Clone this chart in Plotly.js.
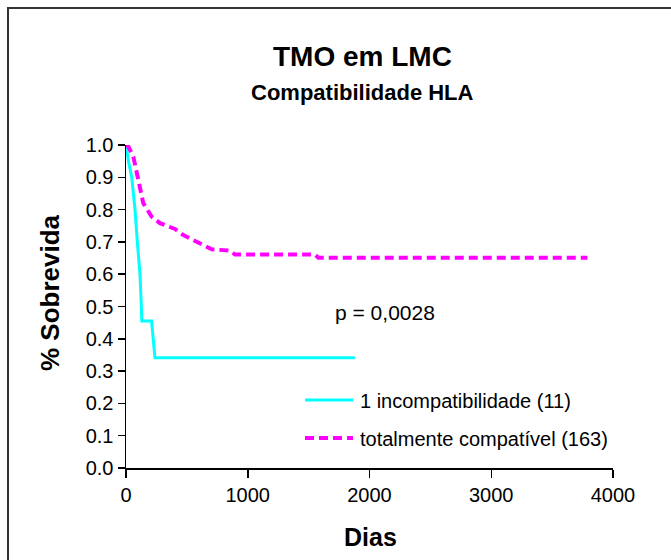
<!DOCTYPE html>
<html>
<head>
<meta charset="utf-8">
<script src="https://cdn.plot.ly/plotly-3.0.1.min.js"></script>
<style>
  html, body { margin: 0; padding: 0; background: #fff; }
  #wrap { position: relative; width: 671px; height: 560px; overflow: hidden; }
  #chart { position: absolute; left: 0; top: 0; width: 671px; height: 560px; }
  #frame { position: absolute; left: 7px; top: 7px; width: 700px; height: 600px;
           border-left: 2px solid #333; border-top: 2px solid #333; pointer-events: none; }
</style>
</head>
<body>
<div id="wrap"><div id="chart"></div><div id="frame"></div></div>
<script>
// Data
const seriesNames = ["1 incompatibilidade (11)", "totalmente compatível (163)"];

const incompDays = [0, 20, 47, 74, 93, 115, 126, 130, 210, 238, 1880];
const incompSurv = [1.0, 0.95, 0.90, 0.80, 0.70, 0.60, 0.50, 0.455, 0.455, 0.341, 0.341];

const compatDays = [0, 20, 60, 88, 101, 142, 211, 279, 402, 471, 540, 608, 704, 854, 895, 1552, 1580, 3790];
const compatSurv = [1.0, 0.995, 0.964, 0.915, 0.88, 0.82, 0.778, 0.758, 0.74, 0.721, 0.708, 0.696, 0.677, 0.673, 0.661, 0.661, 0.651, 0.651];

const xTicks = [0, 1000, 2000, 3000, 4000];
const yTicks = [0, 0.1, 0.2, 0.3, 0.4, 0.5, 0.6, 0.7, 0.8, 0.9, 1.0];

const titleText = "TMO em LMC";
const subtitleText = "Compatibilidade HLA";
const pText = "p = 0,0028";
const xTitle = "Dias";
const yTitle = "% Sobrevida";

const FONT = "Liberation Sans, Arial, Helvetica, sans-serif";
const CYAN = "#00FFFF";
const MAGENTA = "#FF00FF";

const traces = [
  { x: incompDays, y: incompSurv, mode: "lines", name: seriesNames[0],
    line: { color: CYAN, width: 3 }, showlegend: false, hoverinfo: "x+y" },
  { x: compatDays, y: compatSurv, mode: "lines", name: seriesNames[1],
    line: { color: MAGENTA, width: 4, dash: "9px,5px" }, showlegend: false, hoverinfo: "x+y" }
];

// plot area in pixels: x 126..613, y 145..468
const L = 126, R = 613, T = 145, B = 468, W = 671, H = 560;
const px = v => (v - L) / (R - L);      // pixel x -> paper x
const py = v => (B - v) / (B - T);      // pixel y -> paper y

const layout = {
  width: W, height: H,
  margin: { l: L, r: W - R, t: T, b: H - B, pad: 0 },
  paper_bgcolor: "#fff", plot_bgcolor: "#fff",
  font: { family: FONT, color: "#000", size: 20 },
  showlegend: false,
  xaxis: {
    range: [0, 4000], tickvals: xTicks, ticktext: xTicks.map(String),
    showline: true, linecolor: "#000", linewidth: 1.5,
    ticks: "outside", ticklen: 8, tickwidth: 1.5, tickcolor: "#000",
    showgrid: false, zeroline: false, tickfont: { size: 20 }
  },
  yaxis: {
    range: [0, 1], tickvals: yTicks, ticktext: yTicks.map(v => v.toFixed(1)),
    showline: true, linecolor: "#000", linewidth: 1.5,
    ticks: "outside", ticklen: 7, tickwidth: 1.5, tickcolor: "#000",
    showgrid: false, zeroline: false, tickfont: { size: 20 }
  },
  annotations: [
    { text: "<b>" + titleText + "</b>", xref: "paper", yref: "paper", x: px(362), y: py(57),
      xanchor: "center", yanchor: "middle", showarrow: false, font: { size: 28 } },
    { text: "<b>" + subtitleText + "</b>", xref: "paper", yref: "paper", x: px(362), y: py(92),
      xanchor: "center", yanchor: "middle", showarrow: false, font: { size: 22 } },
    { text: "<b>" + xTitle + "</b>", xref: "paper", yref: "paper", x: px(370), y: py(537),
      xanchor: "center", yanchor: "middle", showarrow: false, font: { size: 25 } },
    { text: "<b>" + yTitle + "</b>", xref: "paper", yref: "paper", x: px(50), y: py(293),
      xanchor: "center", yanchor: "middle", showarrow: false, textangle: -90, font: { size: 26 } },
    { text: pText, xref: "paper", yref: "paper", x: px(333), y: py(312),
      xanchor: "left", yanchor: "middle", showarrow: false, font: { size: 21 } },
    { text: seriesNames[0], xref: "paper", yref: "paper", x: px(358), y: py(401),
      xanchor: "left", yanchor: "middle", showarrow: false, font: { size: 20 } },
    { text: seriesNames[1], xref: "paper", yref: "paper", x: px(358), y: py(439),
      xanchor: "left", yanchor: "middle", showarrow: false, font: { size: 20 } }
  ],
  shapes: [
    { type: "line", xref: "paper", yref: "paper", x0: px(305), x1: px(353), y0: py(400), y1: py(400),
      line: { color: CYAN, width: 3 } },
    { type: "line", xref: "paper", yref: "paper", x0: px(305), x1: px(353), y0: py(438), y1: py(438),
      line: { color: MAGENTA, width: 4, dash: "9px,5px" } }
  ]
};

Plotly.newPlot("chart", traces, layout, { displayModeBar: false, staticPlot: true });
</script>
</body>
</html>
